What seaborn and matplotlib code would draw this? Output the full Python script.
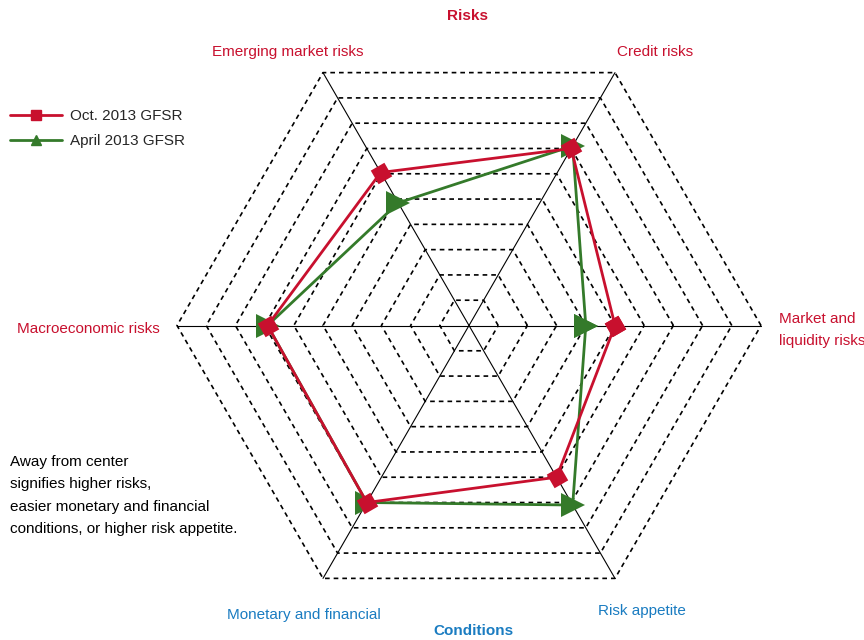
import numpy as np
import pandas as pd
import matplotlib
matplotlib.use("Agg")
import matplotlib.pyplot as plt
from matplotlib.lines import Line2D
import seaborn as sb

# данные (значения по осям, 0..10)
axes_names = ["Market and liquidity risks", "Credit risks", "Emerging market risks",
              "Macroeconomic risks", "Monetary and financial", "Risk appetite"]
oct_2013 = [5.0, 7.0, 6.05, 6.9, 7.0, 6.0]
apr_2013 = [4.0, 7.1, 4.85, 6.9, 7.0, 7.1]
series_names = ["Oct. 2013 GFSR", "April 2013 GFSR"]
n_rings = 10

RED = "#c8102e"
GREEN = "#347a2a"
BLUE = "#1a7cc1"

sb.set_style("white")
plt.rcParams['font.family'] = ['Liberation Sans Narrow', 'Liberation Sans', 'DejaVu Sans']

angles = np.deg2rad(np.arange(0, 360, 60))

def to_xy(vals):
    v = np.array(vals + vals[:1])
    a = np.append(angles, angles[0])
    return v * np.cos(a), v * np.sin(a)

fig = plt.figure(figsize=(8.64, 6.4), dpi=100)
ax = fig.add_axes([0, 0, 1, 1])
px = 29.2  # пикселей на одно кольцо
cx, cy = 469, 325.5
ax.set_xlim(-cx / px, (864 - cx) / px)
ax.set_ylim(-(640 - cy) / px, cy / px)
ax.axis("off")

# сетка - пунктирные шестиугольники
for r in range(1, n_rings + 1):
    gx, gy = to_xy([r] * 6)
    ax.plot(gx, gy, color="black", lw=1.2, ls=(0, (2.8, 2.4)), zorder=1)
for a in angles:
    ax.plot([0, n_rings * np.cos(a)], [0, n_rings * np.sin(a)], color="black", lw=0.8, zorder=1)

# серии
x, y = to_xy(apr_2013)
df_apr = pd.DataFrame({"x": x, "y": y})
sb.lineplot(data=df_apr, x="x", y="y", sort=False, estimator=None, color=GREEN,
            lw=2, marker=">", markersize=17, markeredgewidth=0, ax=ax, zorder=3)
x, y = to_xy(oct_2013)
df_oct = pd.DataFrame({"x": x, "y": y})
sb.lineplot(data=df_oct, x="x", y="y", sort=False, estimator=None, color=RED,
            lw=2, marker=(4, 0, 75), markersize=16, markeredgewidth=0, ax=ax, zorder=4)

# подписи
fs = 11
T = ax.transAxes
def ftxt(xp, yp, s, **kw):
    ax.text(xp / 864, 1 - yp / 640, s, transform=T, fontsize=fs, **kw)

ftxt(468, 16, "Risks", color=RED, ha="center", va="center", fontweight="bold")
ftxt(288, 52, "Emerging market risks", color=RED, ha="center", va="center")
ftxt(655, 52, "Credit risks", color=RED, ha="center", va="center")
ftxt(779, 330, "Market and\nliquidity risks", color=RED, ha="left", va="center", linespacing=1.8)
ftxt(88, 329, "Macroeconomic risks", color=RED, ha="center", va="center")
ftxt(642, 611, "Risk appetite", color=BLUE, ha="center", va="center")
ftxt(304, 615, "Monetary and financial", color=BLUE, ha="center", va="center")
ftxt(473, 631, "Conditions", color=BLUE, ha="center", va="center", fontweight="bold")
ftxt(10, 455, "Away from center\nsignifies higher risks,\neasier monetary and financial\nconditions, or higher risk appetite.",
     color="black", ha="left", va="top", linespacing=1.75)

handles = [Line2D([], [], color=RED, lw=2, marker="s", markersize=7),
           Line2D([], [], color=GREEN, lw=2, marker="^", markersize=7)]
ax.legend(handles, series_names, loc="upper left", bbox_to_anchor=(10 / 864, 1 - 109 / 640),
          bbox_transform=T, frameon=False, fontsize=fs, borderpad=0, borderaxespad=0,
          handlelength=3.4, handletextpad=0.5, labelspacing=0.75)

fig.savefig("out.png", dpi=100)
